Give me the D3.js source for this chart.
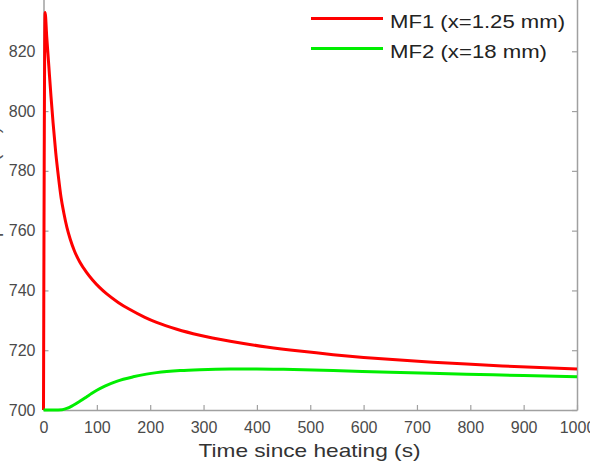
<!DOCTYPE html>
<html>
<head>
<meta charset="utf-8">
<script src="https://cdn.jsdelivr.net/npm/d3@7/dist/d3.min.js"></script>
<style>
  html, body { margin: 0; padding: 0; background: #fff; }
  svg { display: block; font-family: "Liberation Sans", Arial, sans-serif; }
</style>
</head>
<body>
<svg id="chart" width="590" height="467"></svg>
<script>
// ---- data ----
const mf1Time = [0, 3, 6, 10, 14, 18, 23, 28, 33, 38, 44, 50, 58, 68, 80, 92, 105, 118, 140, 162, 190, 212, 250, 293, 350, 418, 480, 543, 600, 668, 730, 793, 860, 918, 1000];
const mf1Temp = [700, 833, 825, 815, 805, 796, 786, 778, 771, 766, 761, 757.2, 753.2, 749.5, 746.2, 743.5, 741.0, 738.9, 736.0, 733.6, 731.0, 729.3, 727.0, 725.0, 723.0, 721.1, 719.7, 718.5, 717.6, 716.7, 716.0, 715.35, 714.75, 714.3, 713.7];
const mf2Time = [0, 20, 35, 45, 55, 68, 80, 90, 100, 115, 137, 168, 193, 212, 256, 293, 350, 400, 450, 543, 650, 793, 900, 1000];
const mf2Temp = [700, 700, 700.1, 700.6, 701.5, 702.9, 704.3, 705.5, 706.6, 708.0, 709.6, 711.1, 712.0, 712.5, 713.2, 713.5, 713.7, 713.7, 713.6, 713.2, 712.6, 712, 711.5, 711.1];
const seriesNames = ["MF1 (x=1.25 mm)", "MF2 (x=18 mm)"];
const seriesColors = ["#ff0000", "#00ee00"];
const xTicks = [0, 100, 200, 300, 400, 500, 600, 700, 800, 900, 1000];
const yTicks = [700, 720, 740, 760, 780, 800, 820];
const xLabel = "Time since heating (s)";
const yLabel = "Temperature (°C)";

// ---- layout ----
(function () {
const svg = d3.select("#chart");
const mLeft = 43.5, mRight = 577, mBottom = 410, mTop = -8.5;
const x = d3.scaleLinear().domain([0, 1000]).range([mLeft, mRight]);
const y = d3.scaleLinear().domain([700, 840]).range([mBottom, mTop]);
const axisColor = "#a0a0a0";
const textColor = "#4a4a4a";

// axes
const gx = svg.append("g").attr("transform", `translate(0,${mBottom})`)
  .call(d3.axisBottom(x).tickValues(xTicks).tickFormat(d3.format("d")).tickSizeInner(-5).tickSizeOuter(0).tickPadding(12));
const gy = svg.append("g").attr("transform", `translate(${mLeft},0)`)
  .call(d3.axisLeft(y).tickValues(yTicks).tickFormat(d3.format("d")).tickSizeInner(-5).tickSizeOuter(0).tickPadding(8));
const gyR = svg.append("g").attr("transform", `translate(${mRight},0)`)
  .call(d3.axisRight(y).tickValues(yTicks).tickSizeInner(-5).tickSizeOuter(0).tickFormat(""));

[gx, gy, gyR].forEach(g => {
  g.selectAll("path.domain").attr("stroke", axisColor).attr("stroke-width", 1.5);
  g.selectAll(".tick line").attr("stroke", axisColor).attr("stroke-width", 1.2);
  g.selectAll(".tick text").attr("fill", textColor).attr("font-size", 16)
    .attr("font-family", "'Liberation Sans', Arial, sans-serif");
});
gx.selectAll(".tick text").attr("dy", "0.71em");

// axis labels
svg.append("text")
  .attr("x", 309.5).attr("y", 457)
  .attr("text-anchor", "middle")
  .attr("font-size", 18.5)
  .attr("textLength", 222).attr("lengthAdjust", "spacingAndGlyphs")
  .attr("fill", "#333")
  .text(xLabel);

svg.append("text")
  .attr("transform", `translate(-1,200) rotate(-90)`)
  .attr("text-anchor", "middle")
  .attr("font-size", 19)
  .attr("fill", "#555")
  .text(yLabel);

// lines
const line = d3.line().x(d => x(d[0])).y(d => y(d[1])).curve(d3.curveMonotoneX);
const series = [
  d3.zip(mf1Time, mf1Temp),
  d3.zip(mf2Time, mf2Temp)
];
const plot = svg.append("g");
series.forEach((s, i) => {
  plot.append("path").datum(s)
    .attr("d", line)
    .attr("fill", "none")
    .attr("stroke", seriesColors[i])
    .attr("stroke-width", 3)
    .attr("stroke-linejoin", "round");
});

// legend
const legY = [18.5, 48.5];
const legLens = [175, 157];
seriesNames.forEach((n, i) => {
  svg.append("line")
    .attr("x1", 311).attr("x2", 383)
    .attr("y1", legY[i]).attr("y2", legY[i])
    .attr("stroke", seriesColors[i]).attr("stroke-width", 3);
  svg.append("text")
    .attr("x", 390).attr("y", legY[i] + 9.5)
    .attr("font-size", 18.5)
    .attr("textLength", legLens[i]).attr("lengthAdjust", "spacingAndGlyphs")
    .attr("fill", "#222")
    .text(n);
});
})();
</script>
</body>
</html>
